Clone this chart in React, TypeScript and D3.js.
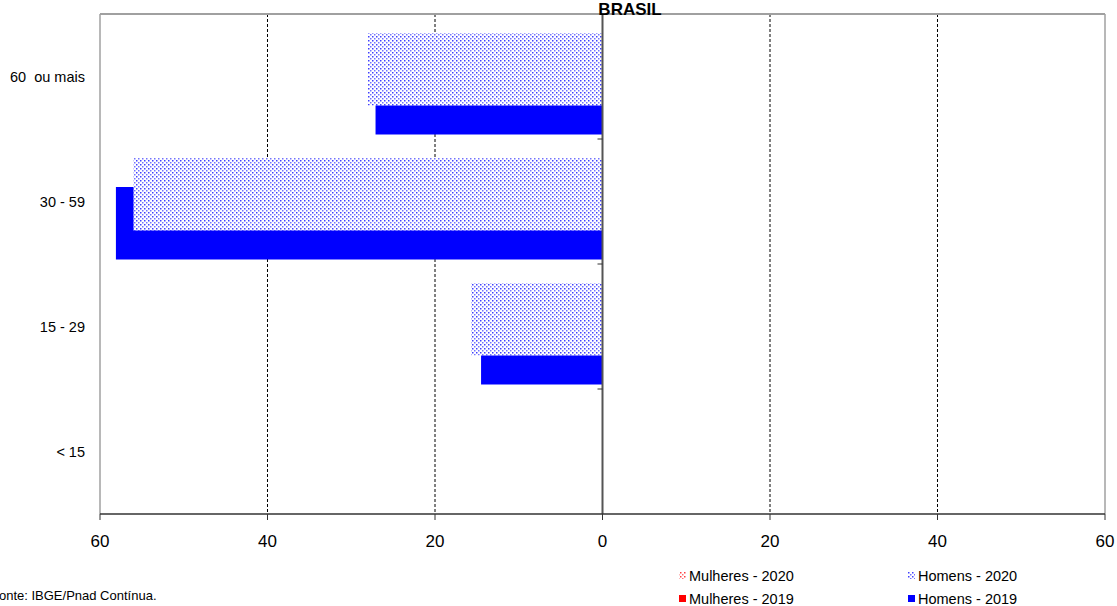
import React from "react";
import * as d3 from "d3";

const categories = ["60  ou mais", "30 - 59", "15 - 29", "< 15"];
const homens2020 = [28.0, 56.0, 15.7, 0];
const homens2019 = [27.1, 58.1, 14.5, 0];
const mulheres2020 = [0, 0, 0, 0];
const mulheres2019 = [0, 0, 0, 0];
const xTicks = [-60, -40, -20, 0, 20, 40, 60];
const title = "BRASIL";
const source = "Fonte: IBGE/Pnad Contínua.";
const legendItems = [
  { label: "Mulheres - 2020", color: "#ff0000", pattern: true },
  { label: "Homens - 2020", color: "#0000ff", pattern: true },
  { label: "Mulheres - 2019", color: "#ff0000", pattern: false },
  { label: "Homens - 2019", color: "#0000ff", pattern: false },
];

const W = 1117;
const H = 606;
const left = 100;
const right = 1105;
const top = 14;
const bottom = 514;
const font = "'Liberation Sans', Arial, sans-serif";

export default function App() {
  const x = d3.scaleLinear().domain([-60, 60]).range([left, right]);
  const y = d3.scaleBand<string>().domain(categories).range([top, bottom]).paddingInner(0);
  const bw = y.bandwidth();
  const barH = bw * 0.58;
  const off2020 = bw * 0.152;
  const off2019 = bw * 0.384;

  const bars = (vals: number[], side: number, off: number, fill: string, key: string) =>
    vals.map((v, i) => {
      if (!v) return null;
      const x0 = x(0);
      const x1 = x(side * v);
      return (
        <rect
          key={key + i}
          x={Math.min(x0, x1)}
          y={(y(categories[i]) as number) + off}
          width={Math.abs(x1 - x0)}
          height={barH}
          fill={fill}
        />
      );
    });

  return (
    <div style={{ position: "fixed", left: 0, top: 0 }}>
      <svg width={W} height={H} style={{ display: "block", background: "#fff" }}>
        <defs>
          <pattern id="dotBlue" width="4" height="4" patternUnits="userSpaceOnUse">
            <rect width="4" height="4" fill="#fff" />
            <rect x="0" y="0" width="1.5" height="1.5" fill="#0000ff" opacity="0.75" />
            <rect x="2" y="2" width="1.5" height="1.5" fill="#0000ff" opacity="0.55" />
          </pattern>
          <pattern id="dotRed" width="4" height="4" patternUnits="userSpaceOnUse">
            <rect width="4" height="4" fill="#fff" />
            <rect x="0" y="0" width="1.5" height="1.5" fill="#ff0000" opacity="0.75" />
            <rect x="2" y="2" width="1.5" height="1.5" fill="#ff0000" opacity="0.55" />
          </pattern>
        </defs>

        {/* gridlines */}
        {xTicks
          .filter((t) => t !== 0 && Math.abs(t) !== 60)
          .map((t) => (
            <line key={"g" + t} x1={x(t)} x2={x(t)} y1={top} y2={bottom} stroke="#000" strokeWidth={1} strokeDasharray="3,2" />
          ))}

        {/* plot border */}
        <line x1={left} x2={right} y1={top} y2={top} stroke="#a0a0a0" strokeWidth={2} />
        <line x1={left} x2={left} y1={top} y2={bottom} stroke="#a0a0a0" strokeWidth={1.5} />
        <line x1={right} x2={right} y1={top} y2={bottom} stroke="#a0a0a0" strokeWidth={1.5} />

        {/* bars */}
        {bars(homens2019, -1, off2019, "#0000ff", "h19")}
        {bars(mulheres2019, 1, off2019, "#ff0000", "m19")}
        {bars(homens2020, -1, off2020, "url(#dotBlue)", "h20")}
        {bars(mulheres2020, 1, off2020, "url(#dotRed)", "m20")}

        {/* zero axis */}
        <line x1={x(0)} x2={x(0)} y1={top} y2={bottom} stroke="#555" strokeWidth={2} />
        {categories.slice(0, -1).map((c) => (
          <line key={"ct" + c} x1={x(0) - 5} x2={x(0)} y1={(y(c) as number) + bw} y2={(y(c) as number) + bw} stroke="#333" strokeWidth={1} />
        ))}

        {/* bottom axis */}
        <line x1={left} x2={right} y1={bottom} y2={bottom} stroke="#333" strokeWidth={1.5} />
        {xTicks.map((t) => (
          <g key={"t" + t}>
            <line x1={x(t)} x2={x(t)} y1={bottom} y2={bottom + 6} stroke="#333" strokeWidth={1} />
            <text x={x(t)} y={bottom + 33} textAnchor="middle" fontFamily={font} fontSize={17} fill="#000">
              {Math.abs(t)}
            </text>
          </g>
        ))}

        {/* category labels */}
        {categories.map((c) => (
          <text key={"c" + c} x={85} y={(y(c) as number) + bw / 2 + 5} textAnchor="end" fontFamily={font} fontSize={14.5} fill="#000" style={{ whiteSpace: "pre" }}>
            {c}
          </text>
        ))}

        {/* title */}
        <text x={630} y={15} textAnchor="middle" fontFamily={font} fontSize={17} fontWeight="bold" fill="#000">
          {title}
        </text>

        {/* source */}
        <text x={-9} y={600} fontFamily={font} fontSize={13} fill="#000">
          {source}
        </text>

        {/* legend */}
        {legendItems.map((item, i) => {
          const col = i % 2;
          const row = Math.floor(i / 2);
          const lx = col === 0 ? 679 : 908;
          const ly = row === 0 ? 576 : 599;
          return (
            <g key={"l" + i}>
              <rect
                x={lx}
                y={ly - 4}
                width={7}
                height={7}
                fill={item.pattern ? (item.color === "#ff0000" ? "url(#dotRed)" : "url(#dotBlue)") : item.color}
              />
              <text x={lx + 10} y={ly + 5} fontFamily={font} fontSize={14.5} fill="#000">
                {item.label}
              </text>
            </g>
          );
        })}
      </svg>
    </div>
  );
}
